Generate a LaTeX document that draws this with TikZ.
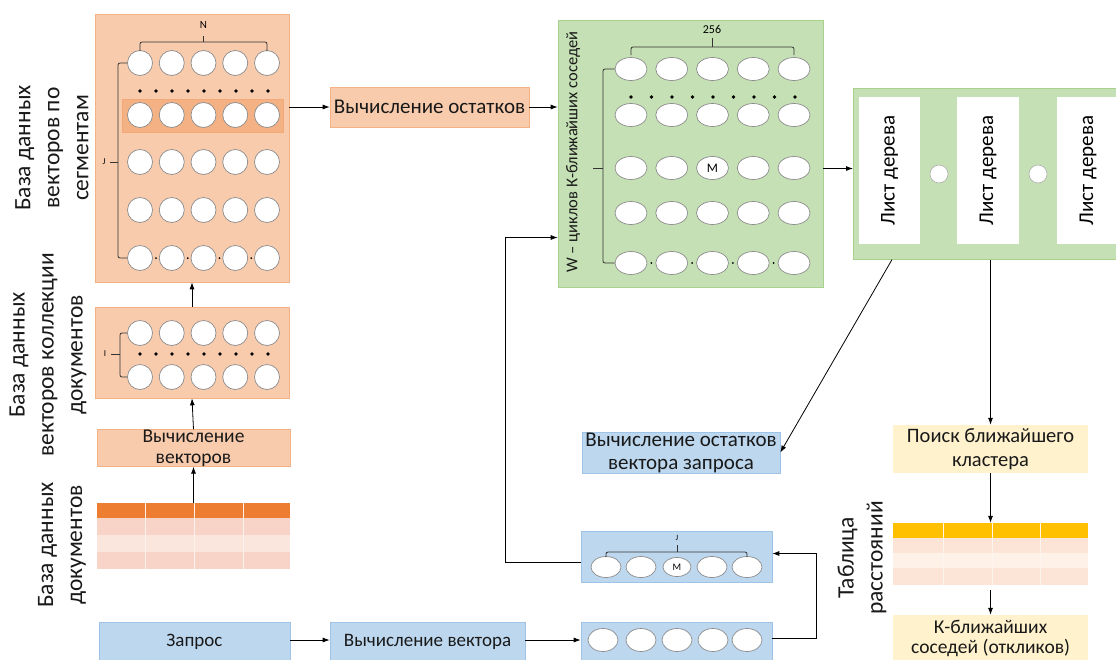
\documentclass[tikz,border=0pt]{standalone}
\usepackage{fontspec}
\setmainfont{Carlito}
\usetikzlibrary{shapes.geometric,arrows.meta}

\definecolor{orpanel}{HTML}{F8CBAD}
\definecolor{oredge}{HTML}{F4B183}
\definecolor{ordark}{HTML}{ED7D31}
\definecolor{orrowA}{HTML}{F7D4C7}
\definecolor{orrowB}{HTML}{FBE6DE}
\definecolor{bluefill}{HTML}{BDD7EE}
\definecolor{blueedge}{HTML}{9DC3E6}
\definecolor{greenfill}{HTML}{C5E0B4}
\definecolor{greenedge}{HTML}{A9D18E}
\definecolor{yellowfill}{HTML}{FFF2CC}
\definecolor{goldrow}{HTML}{FFC000}
\definecolor{peachA}{HTML}{FCE4D6}
\definecolor{peachB}{HTML}{FEF1E8}
\definecolor{ringgray}{HTML}{8C8C8C}

\begin{document}
\begin{tikzpicture}[x=1pt,y=-1pt,
  panel/.style={rectangle, inner sep=0, align=center},
  obox/.style={panel, fill=orpanel, draw=oredge, line width=0.6pt},
  bbox/.style={panel, fill=bluefill, draw=blueedge, line width=0.6pt},
  gbox/.style={panel, fill=greenfill, draw=greenedge, line width=0.6pt},
  ybox/.style={panel, fill=yellowfill},
  boxtext/.style={font=\fontsize{19}{22}\selectfont, text=black!90},
  sidelabel/.style={rotate=90, align=center, font=\fontsize{23.5}{29}\selectfont, text=black!90},
  ring/.style={circle, draw=ringgray, fill=white, line width=0.7pt, minimum size=25pt, inner sep=0},
  ovalG/.style={ellipse, draw=ringgray, fill=white, line width=0.7pt, minimum width=32pt, minimum height=23pt, inner sep=0},
  ovalB/.style={ellipse, draw=ringgray, fill=white, line width=0.7pt, minimum width=30pt, minimum height=21pt, inner sep=0},
  brace/.style={draw=black!80, line width=0.8pt, rounded corners=2pt},
  arr/.style={draw=black, line width=0.8pt, -{Latex[length=7pt,width=5pt]}},
  tiny/.style={font=\fontsize{9}{10}\selectfont, inner sep=0}
]
\useasboundingbox (0,0) rectangle (1116,659);
\clip (0,0) rectangle (1116,659);
\fill[white] (0,0) rectangle (1116,659);

% ---------- left column: segment vector database ----------
\node[obox, minimum width=194, minimum height=268] (segdb) at (192,148) {};
\node[panel, fill=oredge, draw=oredge!85!ordark, line width=0.6pt,
      minimum width=161, minimum height=33] (hirow) at (202.5,115.5) {};
\foreach \r/\yy in {1/63,2/115,3/162,4/210,5/258}
  \foreach \c in {1,...,5}
    \node[ring] (s-\r-\c) at ({140+31.75*(\c-1)},\yy) {};
\foreach \i in {0,...,8} \fill ({140+16*\i},91) circle (1.8);
\foreach \c in {1,...,4} \fill ({156+31.75*(\c-1)},258) circle (1);
% N brace
\draw[brace] (s-1-1.north |- 0,51) -- (s-1-1.north |- 0,42) -- (s-1-5.north |- 0,42) -- (s-1-5.north |- 0,51);
\draw[brace] (s-1-3.north |- 0,42) -- (s-1-3.north |- 0,36);
\node[font=\fontsize{11}{12}\selectfont, inner sep=0] (nlab) at (203.5,25) {N};
% J brace
\draw[brace] (s-1-1.west) -- (118,63) -- (118,258) -- (s-5-1.west);
\draw[brace] (118,162) -- (110,162);
\node[tiny] (jlab) at (104,162) {J};

% ---------- document collection vectors ----------
\node[obox, minimum width=194, minimum height=91] (coll) at (192,352.5) {};
\foreach \r/\yy in {1/333,2/377}
  \foreach \c in {1,...,5}
    \node[ring] (c-\r-\c) at ({140+31.75*(\c-1)},\yy) {};
\foreach \i in {0,...,8} \fill ({140+16*\i},354) circle (1.8);
\draw[brace] (c-1-1.west) -- (120,333) -- (120,377) -- (c-2-1.west);
\draw[brace] (120,354) -- (111,354);
\node[tiny] (ilab) at (105,354) {I};

% ---------- vector computation ----------
\node[obox, minimum width=193, minimum height=36, boxtext,
      font=\fontsize{19.5}{21}\selectfont] (vecbox) at (193.5,448) {Вычисление\\векторов};

% ---------- document table ----------
\node[panel, fill=ordark, minimum width=193, minimum height=15] (d1) at (193.5,510.5) {};
\node[panel, fill=orrowA, minimum width=193, minimum height=17] (d2) at (193.5,526.5) {};
\node[panel, fill=orrowB, minimum width=193, minimum height=17] (d3) at (193.5,543.5) {};
\node[panel, fill=orrowA, minimum width=193, minimum height=17] (d4) at (193.5,560.5) {};
\foreach \xx in {145,194,243} \draw[white!70!orrowA, line width=0.6pt] (\xx,503) -- (\xx,569);

% ---------- side labels ----------
\node[sidelabel] (lab1) at (52,148) {База данных\\векторов по\\сегментам};
\node[sidelabel] (lab2) at (48,355) {База данных\\векторов коллекции\\документов};
\node[sidelabel] (lab3) at (62,545) {База данных\\документов};
\node[sidelabel] (lab4) at (862,558) {Таблица\\расстояний};

% ---------- residual computation ----------
\node[obox, minimum width=199, minimum height=40, boxtext,
      font=\fontsize{21}{23}\selectfont] (ostatki) at (429.5,107) {Вычисление остатков};

% ---------- K nearest neighbour cycles ----------
\node[gbox, minimum width=265, minimum height=267] (green) at (690.5,153.5) {};
\node[rotate=90, font=\fontsize{16.5}{18}\selectfont, text=black!90, inner sep=0] (wlab) at (573,152)
  {W – циклов К-ближайших соседей};
\foreach \r/\yy in {1/69,2/115,3/168,4/213,5/263}
  \foreach \c in {1,...,5}
    \node[ovalG] (g-\r-\c) at ({631+40.75*(\c-1)},\yy) {};
\node[font=\fontsize{13}{14}\selectfont, inner sep=0] (gm) at (g-3-3) {M};
\foreach \i in {0,...,8} \fill ({631+20.5*\i},97) circle (1.9);
\foreach \c in {1,...,4} \fill ({651.4+40.75*(\c-1)},263) circle (1);
\draw[brace] (g-1-1.north |- 0,55) -- (g-1-1.north |- 0,47) -- (g-1-5.north |- 0,47) -- (g-1-5.north |- 0,55);
\draw[brace] (g-1-3.north |- 0,47) -- (g-1-3.north |- 0,38);
\node[font=\fontsize{12}{13}\selectfont, inner sep=0] (n256) at (712,29) {256};
\draw[brace] (g-1-1.west) -- (603,69) -- (603,263) -- (g-5-1.west);
\draw[brace] (603,168) -- (593,168);

% ---------- tree leaves ----------
\node[gbox, minimum width=272, minimum height=171, anchor=north west] (tree) at (853,88) {};
\node[panel, fill=white, rotate=90, minimum width=147, minimum height=61,
      font=\fontsize{21}{23}\selectfont] (leaf1) at (889.5,170.5) {Лист дерева};
\node[panel, fill=white, rotate=90, minimum width=147, minimum height=62,
      font=\fontsize{21}{23}\selectfont] (leaf2) at (988,170.5) {Лист дерева};
\node[panel, fill=white, rotate=90, minimum width=147, minimum height=62,
      font=\fontsize{21}{23}\selectfont] (leaf3) at (1088,170.5) {Лист дерева};
\node[circle, fill=white, draw=ringgray!70, line width=0.6pt, minimum size=18pt, inner sep=0] (dot1) at (939,174) {};
\node[circle, fill=white, draw=ringgray!70, line width=0.6pt, minimum size=18pt, inner sep=0] (dot2) at (1038,174) {};

% ---------- query residuals ----------
\node[bbox, minimum width=198, minimum height=41, boxtext,
      font=\fontsize{21}{23}\selectfont] (qres) at (681,452.5) {Вычисление остатков\\вектора запроса};

% ---------- query side ----------
\node[bbox, minimum width=191, minimum height=51] (jbox) at (676.5,556.5) {};
\foreach \c/\xx in {1/606,2/641,4/712,5/747}
  \node[ovalB] (j-\c) at (\xx,567) {};
\node[ellipse, draw=ringgray, fill=white, line width=0.7pt, minimum width=28pt, minimum height=19pt,
      inner sep=0, font=\fontsize{10}{11}\selectfont] (j-3) at (677,567) {M};
\draw[brace] (j-1.north |- 0,557) -- (j-1.north |- 0,552) -- (j-5.north |- 0,552) -- (j-5.north |- 0,557);
\draw[brace] (j-3.north |- 0,552) -- (j-3.north |- 0,545);
\node[font=\fontsize{8}{9}\selectfont, inner sep=0] (jtop) at (677,538) {J};

\node[bbox, minimum width=191, minimum height=40] (qvec) at (676.5,642) {};
\foreach \c/\xx in {1/603,2/641,3/677,4/713,5/747}
  \node[ovalB, minimum height=23pt] (q-\c) at (\xx,640) {};

\node[bbox, minimum width=191, minimum height=40, boxtext] (zapros) at (194.5,642) {Запрос};
\node[bbox, minimum width=195, minimum height=40, boxtext] (vecv) at (427.5,642) {Вычисление вектора};

% ---------- nearest cluster search ----------
\node[ybox, minimum width=195, minimum height=48, boxtext,
      font=\fontsize{20.5}{24}\selectfont] (poisk) at (990.5,449) {Поиск ближайшего\\кластера};
\node[panel, fill=goldrow, minimum width=195, minimum height=15] (t1) at (990.5,530.5) {};
\node[panel, fill=peachA, minimum width=195, minimum height=15] (t2) at (990.5,545.5) {};
\node[panel, fill=peachB, minimum width=195, minimum height=15] (t3) at (990.5,560.5) {};
\node[panel, fill=peachA, minimum width=195, minimum height=17] (t4) at (990.5,576.5) {};
\foreach \xx in {943,992,1040} \draw[white!60!peachA, line width=0.6pt] (\xx,523) -- (\xx,585);
\node[ybox, minimum width=195, minimum height=47, boxtext,
      font=\fontsize{19.5}{20}\selectfont] (knn) at (990.5,638.5) {К-ближайших\\соседей (откликов)};

% ---------- connectors ----------
\draw[arr] (d1.north) -- (vecbox.south);
\draw[arr] (vecbox.north) -- (coll.south);
\draw[arr] (coll.north) -- (segdb.south);
\draw[arr] (segdb.east |- ostatki.west) -- (ostatki.west);
\draw[arr] (ostatki.east) -- (green.west |- ostatki.east);
\draw[arr] ([yshift=-15pt]green.east) -- ([yshift=-15pt]green.east -| tree.west);
\draw[arr] ([xshift=39pt]tree.south west) -- (qres.east);
\draw[arr] (tree.south -| poisk.north) -- (poisk.north);
\draw[arr] (poisk.south) -- (t1.north);
\draw[arr] ([yshift=-5pt]t4.south) -- (knn.north);
\draw[arr] (zapros.east |- 0,640) -- (vecv.west |- 0,640);
\draw[arr] (vecv.east |- 0,640) -- (qvec.west |- 0,640);
\draw[arr] (qvec.east |- 0,638) -- ++(44,0) |- ([yshift=3pt]jbox.east);
\draw[arr] ([yshift=-6pt]jbox.west) -- ++(-75,0) |- ([yshift=-84pt]green.west);
\end{tikzpicture}
\end{document}
